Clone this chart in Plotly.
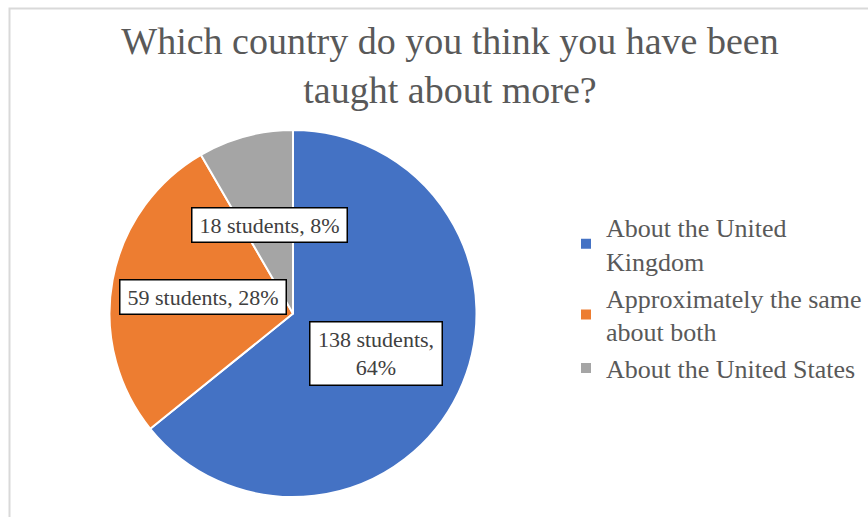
import math
import plotly.graph_objects as go

# Survey answers
answers = ["About the United<br>Kingdom", "Approximately the same<br>about both", "About the United States"]
students = [138, 59, 18]
pct_labels = ["64%", "28%", "8%"]
label_breaks = [",<br>", ", ", ", "]

colors = ["#4472C4", "#ED7D31", "#A5A5A5"]

W, H = 868, 517
# pie placement in pixels: centre and radius
cx, cy, R = 293, 313.5, 183.5

fig = go.Figure(
    go.Pie(
        labels=answers,
        values=students,
        sort=False,
        direction="clockwise",
        rotation=0,
        textinfo="none",
        marker=dict(colors=colors, line=dict(color="white", width=2)),
        domain=dict(x=[(cx - R) / W, (cx + R) / W], y=[1 - (cy + R) / H, 1 - (cy - R) / H]),
        hovertemplate="%{label}: %{value} students<extra></extra>",
    )
)

# data labels in bordered boxes, halfway out along each slice's mid-angle
total = sum(students)
box_widths = [123, 157, 146]
start = 0.0
annotations = []
for n, p, sep, bw in zip(students, pct_labels, label_breaks, box_widths):
    frac = n / total
    mid = (start + frac / 2) * 2 * math.pi
    start += frac
    px = cx + 0.5 * R * math.sin(mid)
    py = cy - 0.5 * R * math.cos(mid)
    annotations.append(
        dict(
            x=px / W, y=1 - py / H, xref="paper", yref="paper",
            xanchor="center", yanchor="middle",
            text=f"{n} students{sep}{p}", showarrow=False,
            font=dict(family="Liberation Serif", size=22, color="#404040"),
            bgcolor="white", bordercolor="black", borderwidth=1.5, borderpad=4,
            width=bw, align="center",
        )
    )

fig.update_layout(
    width=W, height=H,
    margin=dict(l=0, r=0, t=0, b=0),
    paper_bgcolor="white",
    title=dict(
        text="Which country do you think you have been<br>taught about more?",
        x=450 / W, xanchor="center", y=1 - 54 / H, yanchor="middle",
        font=dict(family="Liberation Serif", size=38, color="#595959"),
    ),
    legend=dict(
        x=566 / W, xanchor="left", y=1 - 298 / H, yanchor="middle",
        font=dict(family="Liberation Serif", size=26, color="#595959"),
        bgcolor="rgba(0,0,0,0)", tracegroupgap=0,
    ),
    annotations=annotations,
    shapes=[
        dict(type="rect", xref="paper", yref="paper",
             x0=9.5 / W, x1=1.1, y0=-0.1, y1=1 - 8.5 / H,
             line=dict(color="#d9d9d9", width=2), layer="below"),
    ],
)

fig.write_html("out.html")
